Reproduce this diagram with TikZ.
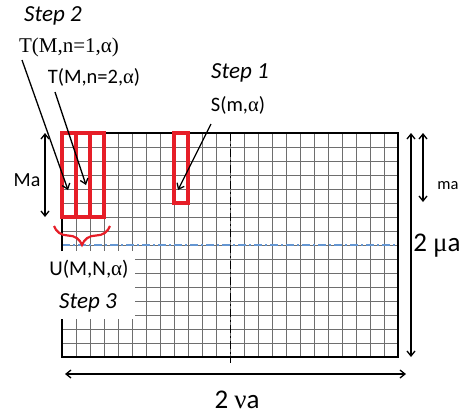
\documentclass[tikz,border=0pt]{standalone}
\usepackage{fontspec}
\setmainfont{Carlito}
\newfontfamily\grk{Liberation Serif}
\usetikzlibrary{arrows.meta,decorations.pathreplacing}
\definecolor{gridgray}{RGB}{110,110,110}
\definecolor{redbox}{RGB}{230,30,40}
\definecolor{bluedash}{RGB}{100,150,210}
\tikzset{
  lbl/.style={inner sep=0pt,font=\fontsize{20.5}{20.5}\selectfont},
  steplbl/.style={inner sep=0pt,font=\fontsize{23}{23}\selectfont\itshape},
  arr/.style={line width=1.3pt,-{Straight Barb[length=5pt,width=8pt]}},
  darr/.style={line width=1.3pt,{Straight Barb[length=5pt,width=8pt]}-{Straight Barb[length=5pt,width=8pt]}},
  redrect/.style={draw=redbox,line width=3.4pt},
}
\begin{document}
\begin{tikzpicture}[x=1pt,y=-1pt]
\useasboundingbox (0,0) rectangle (466,416);
% grid
\foreach \i in {1,...,23} \draw[gridgray,line width=0.6pt] (62+14*\i,133) -- (62+14*\i,357);
\foreach \j in {1,...,15} \draw[gridgray,line width=0.6pt] (62,133+14*\j) -- (398,133+14*\j);
% center lines
\draw[bluedash,line width=1.1pt,dash pattern=on 8pt off 3pt on 2pt off 3pt] (62,245) -- (398,245);
\draw[black,line width=0.9pt,dash pattern=on 8pt off 3pt on 2pt off 3pt] (230,133) -- (230,363);
% white box
\fill[white] (40,251) rectangle (135,319);
% border
\draw[black,line width=1.1pt] (62,133) -- (398,133) -- (398,357) -- (62,357) -- (62,319);
\draw[black,line width=1.1pt] (62,251) -- (62,133);
% red rectangles
\draw[redrect] (62,133) rectangle (76,217);
\draw[redrect] (76,133) rectangle (90,217);
\draw[redrect] (90,133) rectangle (104,217);
\draw[redrect] (174,133) rectangle (188,203);
% brace
\draw[redbox,line width=2.2pt,decorate,decoration={brace,amplitude=19pt,mirror,raise=0pt}] (54,226) -- (110,226);
% labels
\node[steplbl] (s2) at (53,16) {Step 2};
\node[inner sep=0pt,font=\fontsize{21}{21}\selectfont\grk] (t1) at (69,47) {T(M,n=1,α)};
\node[lbl] (t2) at (94,77) {T(M,n=2,{\grk α})};
\node[steplbl] (s1) at (240,73) {Step 1};
\node[lbl] (sm) at (238,105) {S(m,{\grk α})};
\node[inner sep=0pt,font=\fontsize{20}{20}\selectfont] (Ma) at (27,180) {Ma};
\node[inner sep=0pt,font=\fontsize{16.5}{16.5}\selectfont] (ma) at (448,186) {ma};
\node[inner sep=0pt,font=\fontsize{27}{27}\selectfont] (mu) at (437,246) {2 {\grk μ}a};
\node[inner sep=0pt,font=\fontsize{27}{27}\selectfont] (nu) at (237,400) {2 {\grk ν}a};
\node[inner sep=0pt,font=\fontsize{21}{21}\selectfont] (U) at (89,269) {U(M,N,{\grk α})};
\node[steplbl] (s3) at (88,303) {Step 3};
% arrow coordinates
\coordinate (a1s) at (22,60);
\coordinate (a1e) at (68,190);
\coordinate (a2s) at (55,92);
\coordinate (a2e) at (86,185);
\coordinate (a3s) at (211,124);
\coordinate (a3e) at (178,190);
\coordinate (Mat) at (45,133);
\coordinate (Mab) at (45,217);
\coordinate (mat) at (423,133);
\coordinate (mab) at (423,202);
\coordinate (mut) at (411,133);
\coordinate (mub) at (411,357);
\coordinate (nul) at (65,374);
\coordinate (nur) at (406,374);
\draw[arr] (a1s) -- (a1e);
\draw[arr] (a2s) -- (a2e);
\draw[arr] (a3s) -- (a3e);
\draw[darr] (Mat) -- (Mab);
\draw[darr] (mat) -- (mab);
\draw[darr] (mut) -- (mub);
\draw[darr] (nul) -- (nur);
\end{tikzpicture}
\end{document}
